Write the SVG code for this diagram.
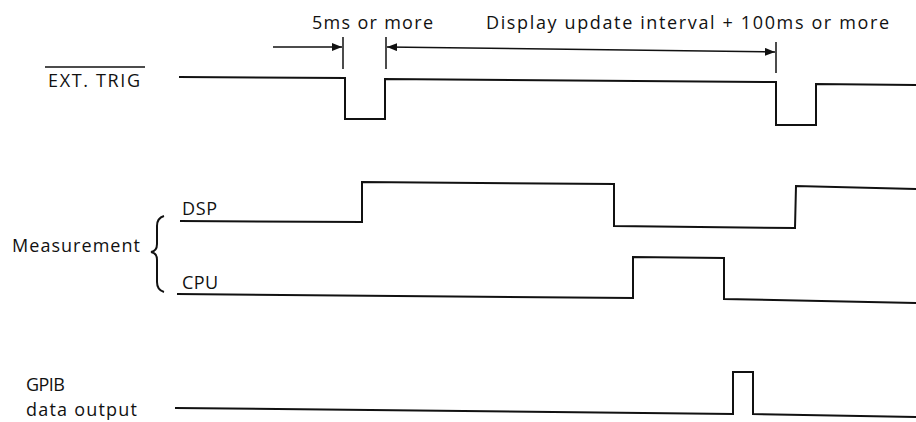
<svg xmlns="http://www.w3.org/2000/svg" width="916" height="422" viewBox="0 0 916 422">
<style>
text{font-family:"Open Sans","Liberation Sans",sans-serif;font-size:18px;fill:#111}
.w{fill:none;stroke:#111;stroke-width:2;stroke-linejoin:miter}
.t{stroke:#111;stroke-width:1.5}
</style>
<defs>
<marker id="ah" viewBox="0 0 10 8" refX="10" refY="4" markerWidth="10" markerHeight="8" markerUnits="userSpaceOnUse" orient="auto-start-reverse">
<path d="M0,0 L10,4 L0,8 Z" fill="#111"/>
</marker>
</defs>
<rect width="916" height="422" fill="#fff"/>
<g id="labels">
<text x="48" y="87" textLength="92" lengthAdjust="spacing">EXT. TRIG</text>
<line x1="45" y1="67" x2="145" y2="67" class="t"/>
<text x="12" y="252" textLength="128" lengthAdjust="spacing">Measurement</text>
<path d="M164,216 Q157,218 157,226 L157,244 Q157,251 151,252 Q157,253 157,260 L157,282 Q157,290 164,292" class="w" stroke-width="1.6"/>
<text x="182" y="215" textLength="35" lengthAdjust="spacing">DSP</text>
<text x="182" y="289" textLength="36" lengthAdjust="spacing">CPU</text>
<text x="26" y="391" textLength="39" lengthAdjust="spacing">GPIB</text>
<text x="26" y="416" textLength="111" lengthAdjust="spacing">data output</text>
<text x="312" y="29" textLength="121" lengthAdjust="spacing">5ms or more</text>
<text x="486" y="29" textLength="403" lengthAdjust="spacing">Display update interval + 100ms or more</text>
</g>
<g id="ext-trig">
<path class="w" d="M179,77 L345,78 L345,119 L385,119 L385,79 L776,82 L776,125 L816,125 L816,84 L916,85"/>
</g>
<g id="dsp">
<path class="w" d="M180,221 L362,222 L362,182 L614,184 L614,226 L795,228 L796,186 L916,189"/>
</g>
<g id="cpu">
<path class="w" d="M177,294 L633,298 L633,257 L724,258 L724,299 L916,303"/>
</g>
<g id="gpib">
<path class="w" d="M175,408 L733,414 L733,372 L753,372 L753,414 L916,417"/>
</g>
<g id="connectors">
<line class="t" x1="343" y1="37" x2="343" y2="69"/>
<line class="t" x1="386" y1="37" x2="386" y2="69"/>
<line class="t" x1="776" y1="42" x2="776" y2="73"/>
<line class="t" x1="273" y1="47" x2="342" y2="47" marker-end="url(#ah)"/>
<line class="t" x1="387" y1="47" x2="775" y2="52" marker-start="url(#ah)" marker-end="url(#ah)"/>
</g>
</svg>
